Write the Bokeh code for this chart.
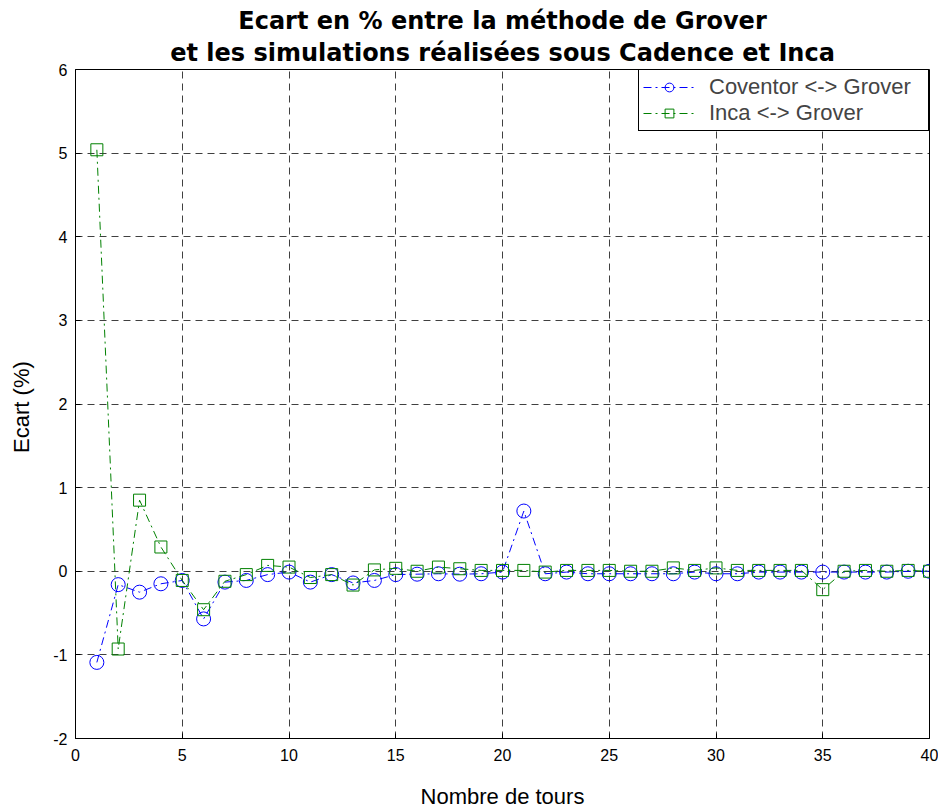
from bokeh.plotting import figure
from bokeh.models import Title, Legend, LegendItem, FixedTicker, Range1d, PrintfTickFormatter
from bokeh.embed import file_html
from bokeh.resources import INLINE

tours = list(range(1, 41))
coventor = [-1.09, -0.16, -0.25, -0.15, -0.11, -0.57, -0.13, -0.11, -0.04, -0.01,
            -0.13, -0.04, -0.14, -0.11, -0.04, -0.035, -0.03, -0.035, -0.03, -0.01,
            0.72, -0.03, -0.01, -0.03, -0.03, -0.03, -0.03, -0.03, -0.01, -0.03,
            -0.03, -0.01, -0.01, -0.01, -0.01, -0.01, -0.01, -0.01, 0.0, 0.0]
inca = [5.04, -0.93, 0.85, 0.29, -0.11, -0.46, -0.12, -0.04, 0.07, 0.05,
        -0.075, -0.04, -0.165, 0.016, 0.035, 0.0, 0.05, 0.03, 0.01, 0.01,
        0.01, -0.01, 0.01, 0.01, 0.01, 0.0, 0.0, 0.04, 0.01, 0.04,
        0.01, 0.01, 0.01, 0.01, -0.22, 0.0, 0.01, 0.0, 0.01, 0.0]
x_ticks = [0, 5, 10, 15, 20, 25, 30, 35, 40]
y_ticks = [-2, -1, 0, 1, 2, 3, 4, 5, 6]

FONT = "Liberation Sans"

p = figure(width=938, height=811, output_backend="svg", toolbar_location=None,
           x_range=Range1d(0, 40), y_range=Range1d(-2, 6), title=None,
           min_border_left=75, min_border_right=9, min_border_top=69,
           min_border_bottom=70)

p.add_layout(Title(text="et les simulations réalisées sous Cadence et Inca", align="center",
                   text_font="DejaVu Sans", text_font_size="24px", text_font_style="bold",
                   text_color="black", standoff=5), "above")
p.add_layout(Title(text="Ecart en % entre la méthode de Grover", align="center",
                   text_font="DejaVu Sans", text_font_size="24px", text_font_style="bold",
                   text_color="black", standoff=0), "above")

p.background_fill_color = "white"
p.border_fill_color = "white"
p.outline_line_color = "black"
p.outline_line_width = 1

for ax in (p.xaxis[0], p.yaxis[0]):
    ax.major_tick_in = 5
    ax.major_tick_out = 0
    ax.minor_tick_line_color = None
    ax.axis_line_color = "black"
    ax.major_tick_line_color = "black"
    ax.major_label_text_font = FONT
    ax.major_label_text_font_size = "16px"
    ax.major_label_text_color = "black"
    ax.axis_label_text_font = FONT
    ax.axis_label_text_font_size = "22px"
    ax.axis_label_text_font_style = "normal"
    ax.axis_label_text_color = "black"
    ax.formatter = PrintfTickFormatter(format="%d")

p.xaxis.ticker = FixedTicker(ticks=x_ticks)
p.yaxis.ticker = FixedTicker(ticks=y_ticks)
p.xaxis.axis_label = "Nombre de tours"
p.yaxis.axis_label = "Ecart  (%)"
p.xaxis.major_label_standoff = 10
p.xaxis.axis_label_standoff = 20
p.yaxis.major_label_standoff = 8
p.yaxis.axis_label_standoff = 16

p.grid.grid_line_color = "black"
p.grid.grid_line_alpha = 0.75
p.grid.grid_line_dash = "7 5"
p.grid.grid_line_width = 1

blue = "#0000ff"
green = "#008000"

l1 = p.line(tours, coventor, line_color=blue, line_width=1, line_dash="8 4 2 4")
m1 = p.scatter(tours, coventor, marker="circle", size=14, fill_color=None,
               line_color=blue, line_width=1)
l2 = p.line(tours, inca, line_color=green, line_width=1, line_dash="8 4 2 4")
m2 = p.scatter(tours, inca, marker="square", size=12, fill_color=None,
               line_color=green, line_width=1)

legend = Legend(items=[LegendItem(label="Coventor <-> Grover", renderers=[l1, m1]),
                       LegendItem(label="Inca <-> Grover", renderers=[l2, m2])],
                location="top_right", margin=0, padding=4, spacing=0,
                glyph_width=52, glyph_height=22, label_height=22, label_width=215,
                label_standoff=14,
                label_text_font=FONT, label_text_font_size="22px",
                border_line_color="black", border_line_width=1, border_line_alpha=1,
                background_fill_color="white", background_fill_alpha=1)
p.add_layout(legend)

open("out.html", "w").write(file_html(p, INLINE))
